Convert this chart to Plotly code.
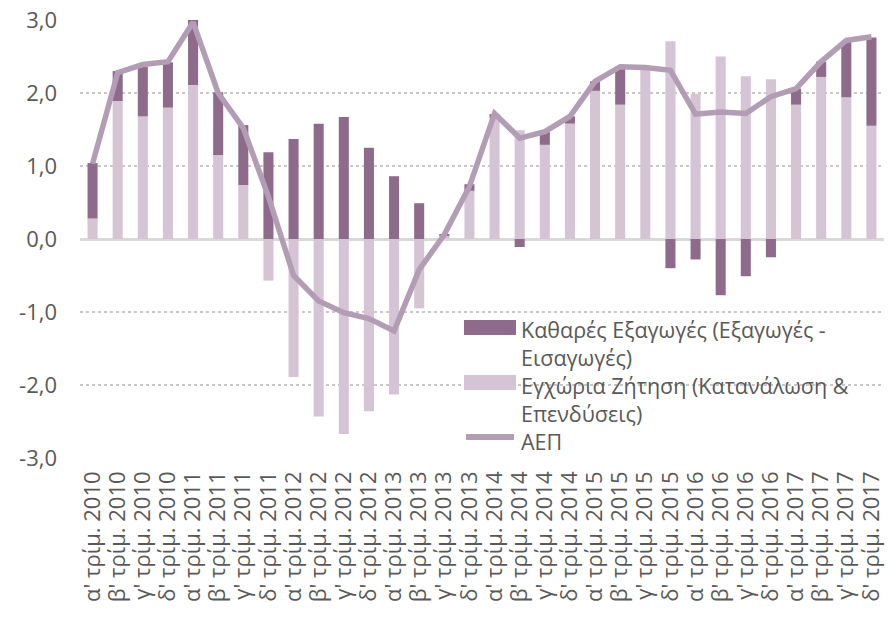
import plotly.graph_objects as go

quarters = ["α'", "β'", "γ'", "δ'"]
years = [2010, 2011, 2012, 2013, 2014, 2015, 2016, 2017]
categories = [f"{q} τρίμ. {y}" for y in years for q in quarters]

domestic_demand = [0.28, 1.89, 1.68, 1.80, 2.11, 1.15, 0.74, -0.57,
                   -1.89, -2.43, -2.67, -2.36, -2.13, -0.95, 0.05, 0.66,
                   1.66, 1.49, 1.29, 1.58, 2.03, 1.84, 2.33, 2.71,
                   1.99, 2.50, 2.23, 2.19, 1.84, 2.22, 1.94, 1.55]
net_exports = [0.76, 0.41, 0.68, 0.62, 0.89, 0.86, 0.82, 1.19,
               1.37, 1.58, 1.67, 1.25, 0.86, 0.49, 0.01, 0.09,
               0.05, -0.11, 0.18, 0.10, 0.13, 0.50, 0.02, -0.40,
               -0.28, -0.77, -0.51, -0.25, 0.22, 0.21, 0.76, 1.21]
gdp = [1.03, 2.28, 2.39, 2.43, 2.97, 2.00, 1.52, 0.58,
       -0.50, -0.85, -1.01, -1.09, -1.26, -0.42, 0.06, 0.72,
       1.72, 1.38, 1.47, 1.68, 2.16, 2.36, 2.35, 2.31,
       1.71, 1.74, 1.72, 1.95, 2.06, 2.43, 2.72, 2.77]

y_tickvals = [-3, -2, -1, 0, 1, 2, 3]
y_ticktext = ["-3,0", "-2,0", "-1,0", "0,0", "1,0", "2,0", "3,0"]

name_nx = ["Καθαρές Εξαγωγές (Εξαγωγές -", "Εισαγωγές)"]
name_dd = ["Εγχώρια Ζήτηση (Κατανάλωση &", "Επενδύσεις)"]
name_gdp = "ΑΕΠ"

DARK = "#8E6B8A"
LIGHT = "#D4C4D4"
LINE = "#B39DB5"
TXT = "#595959"
FONT = "Open Sans"

W, H = 888, 620
L, R, T, B = 80, 4, 20, 162


def px_x(px):
    return (px - L) / (W - L - R)


def px_y(py):
    return (H - B - py) / (H - T - B)


fig = go.Figure()
fig.add_trace(go.Bar(x=categories, y=domestic_demand, name=" ".join(name_dd),
                     marker=dict(color=LIGHT, line=dict(width=0))))
fig.add_trace(go.Bar(x=categories, y=net_exports, name=" ".join(name_nx),
                     marker=dict(color=DARK, line=dict(width=0))))
fig.add_trace(go.Scatter(x=categories, y=gdp, name=name_gdp, mode="lines",
                         line=dict(color=LINE, width=5.5, shape="linear")))

# custom legend (swatches + one multi-line text block)
shapes = [
    dict(type="rect", xref="paper", yref="paper", x0=px_x(464), x1=px_x(516),
         y0=px_y(335), y1=px_y(320), fillcolor=DARK, line=dict(width=0)),
    dict(type="rect", xref="paper", yref="paper", x0=px_x(464), x1=px_x(516),
         y0=px_y(390), y1=px_y(375), fillcolor=LIGHT, line=dict(width=0)),
    dict(type="line", xref="paper", yref="paper", x0=px_x(466), x1=px_x(514),
         y0=px_y(437), y1=px_y(437), line=dict(color=LINE, width=6)),
]
legend_text = "<br>".join(name_nx + name_dd + [name_gdp])
annotations = [dict(text=legend_text, xref="paper", yref="paper",
                    x=px_x(519), y=px_y(313), xanchor="left", yanchor="top",
                    align="left", showarrow=False,
                    font=dict(family=FONT, size=21.5, color=TXT))]

fig.update_layout(
    width=W, height=H,
    margin=dict(l=L, r=R, t=T, b=B),
    barmode="relative",
    bargap=0.6,
    plot_bgcolor="white",
    paper_bgcolor="white",
    showlegend=False,
    hovermode=False,
    font=dict(family=FONT, color=TXT),
    shapes=shapes,
    annotations=annotations,
)
fig.update_xaxes(
    type="category", tickangle=-90, showgrid=False, showline=False,
    tickmode="linear", tick0=0, dtick=1,
    tickfont=dict(family=FONT, size=22, color=TXT),
    ticks="", ticklabelstandoff=8,
)
fig.update_yaxes(
    range=[-3, 3], tickmode="array", tickvals=y_tickvals, ticktext=y_ticktext,
    showgrid=True, gridcolor="#C8C8C8", griddash="dot", gridwidth=1.5,
    zeroline=True, zerolinecolor="#D9D9D9", zerolinewidth=3,
    showline=False, ticks="", ticklabelstandoff=22,
    tickfont=dict(family=FONT, size=22, color=TXT),
)

fig.write_html("out.html", config={"displayModeBar": False},
               post_script="document.body.style.margin='0';")
